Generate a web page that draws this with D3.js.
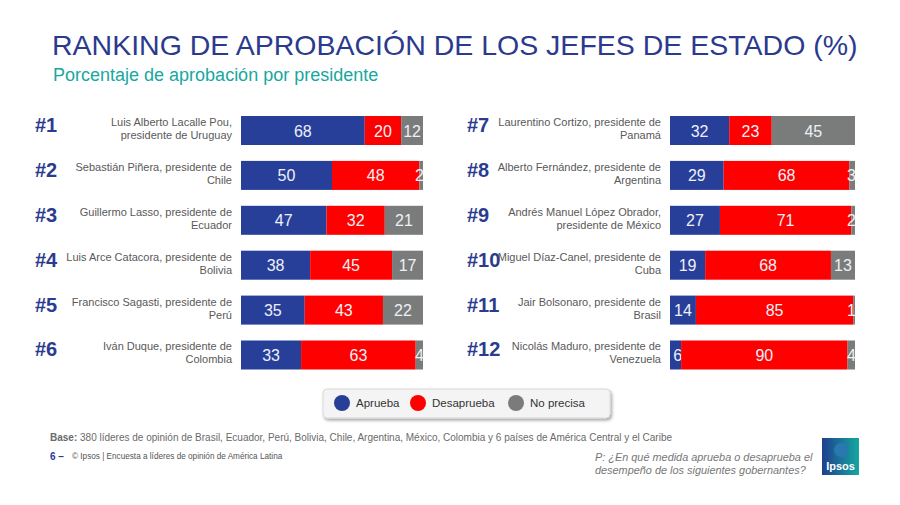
<!DOCTYPE html>
<html><head><meta charset="utf-8">
<script src="https://cdn.jsdelivr.net/npm/d3@7"></script>
<style>body{margin:0;background:#fff;}svg{display:block;font-family:Arial,"Liberation Sans",sans-serif;}</style>
</head><body><svg id="c" width="900" height="505"></svg>
<script>
const ranks = ["#1","#2","#3","#4","#5","#6","#7","#8","#9","#10","#11","#12"];
const names = [
 ["Luis Alberto Lacalle Pou,","presidente de Uruguay"],
 ["Sebastián Piñera, presidente de","Chile"],
 ["Guillermo Lasso, presidente de","Ecuador"],
 ["Luis Arce Catacora, presidente de","Bolivia"],
 ["Francisco Sagasti, presidente de","Perú"],
 ["Iván Duque, presidente de","Colombia"],
 ["Laurentino Cortizo, presidente de","Panamá"],
 ["Alberto Fernández, presidente de","Argentina"],
 ["Andrés Manuel López Obrador,","presidente de México"],
 ["Miguel Díaz-Canel, presidente de","Cuba"],
 ["Jair Bolsonaro, presidente de","Brasil"],
 ["Nicolás Maduro, presidente de","Venezuela"]
];
const aprueba    = [68,50,47,38,35,33,32,29,27,19,14,6];
const desaprueba = [20,48,32,45,43,63,23,68,71,68,85,90];
const noPrecisa  = [12,2,21,17,22,4,45,3,2,13,1,4];
const seriesNames = ["Aprueba","Desaprueba","No precisa"];
const colors = ["#273f98","#fe0000","#7a7c7b"];

const svg = d3.select("#c");
svg.append("text").attr("x",52).attr("y",55).attr("font-size",28.5).attr("fill","#2b3a8c")
  .text("RANKING DE APROBACIÓN DE LOS JEFES DE ESTADO (%)");
svg.append("text").attr("x",53).attr("y",81).attr("font-size",18).attr("fill","#19a79f")
  .text("Porcentaje de aprobación por presidente");

const cols = [
  {rankX:35, nameX:232, x0:241, x1:423, idx:[0,1,2,3,4,5]},
  {rankX:467, nameX:661, x0:670, x1:855, idx:[6,7,8,9,10,11]}
];
const y = d3.scaleBand().domain(d3.range(6)).range([116,369.5]).paddingInner(0.354).paddingOuter(0);
const stackData = aprueba.map((a,i)=>({a:a,d:desaprueba[i],n:noPrecisa[i]}));
const stack = d3.stack().keys(["a","d","n"])(stackData);

cols.forEach(col=>{
  const x = d3.scaleLinear().domain([0,100]).range([col.x0,col.x1]);
  col.idx.forEach((i,r)=>{
    const g = svg.append("g");
    const yt = y(r), h = y.bandwidth();
    g.append("text").attr("x",col.rankX).attr("y",yt+16).attr("font-size",20).attr("font-weight","bold")
      .attr("fill","#2b3c8f").text(ranks[i]);
    names[i].forEach((ln,k)=>{
      g.append("text").attr("x",col.nameX).attr("y",yt+10+k*13).attr("text-anchor","end")
        .attr("font-size",11).attr("fill","#595959").text(ln);
    });
    stack.forEach((s,si)=>{
      const v0=s[i][0], v1=s[i][1];
      g.append("rect").attr("x",x(v0)).attr("y",yt).attr("width",x(v1)-x(v0)).attr("height",h)
        .attr("fill",colors[si]);
      const val=v1-v0;
      const wpx=x(v1)-x(v0);
      let cx=(x(v0)+x(v1))/2, anchor="middle";
      if(wpx<14){cx=x(v1)+1; anchor="end";}
      g.append("text").attr("x",cx).attr("y",yt+h/2+6).attr("text-anchor",anchor)
        .attr("font-size",16).attr("fill","#eef0f8").text(val);
    });
  });
});

// legend
const lg = svg.append("g");
const defs = svg.append("defs");
const f = defs.append("filter").attr("id","sh").attr("x","-10%").attr("y","-30%").attr("width","120%").attr("height","170%");
f.append("feDropShadow").attr("dx",1.5).attr("dy",2).attr("stdDeviation",1.5).attr("flood-color","#000").attr("flood-opacity",0.35);
lg.append("rect").attr("x",323).attr("y",389).attr("width",287).attr("height",29).attr("rx",4)
  .attr("fill","#f4f4f4").attr("stroke","#d8d8d8").attr("filter","url(#sh)");
const lx=[342,418,516];
seriesNames.forEach((s,i)=>{
  lg.append("circle").attr("cx",lx[i]).attr("cy",403).attr("r",8).attr("fill",colors[i]);
  lg.append("text").attr("x",lx[i]+14).attr("y",407).attr("font-size",11.5).attr("fill","#333").text(s);
});

// footer
const ft = svg.append("text").attr("x",50).attr("y",441).attr("font-size",10).attr("fill","#6a6a6a");
ft.append("tspan").attr("font-weight","bold").text("Base:");
ft.append("tspan").text(" 380 líderes de opinión de Brasil, Ecuador, Perú, Bolivia, Chile, Argentina, México, Colombia y 6 países de América Central y el Caribe");
svg.append("text").attr("x",50).attr("y",460).attr("font-size",10).attr("font-weight","bold").attr("fill","#2b3c8f").text("6 –");
svg.append("text").attr("x",72).attr("y",459).attr("font-size",8.2).attr("fill","#555")
  .text("© Ipsos | Encuesta a líderes de opinión de América Latina");
svg.append("text").attr("x",595).attr("y",461).attr("font-size",10.9).attr("font-style","italic").attr("fill","#777")
  .text("P: ¿En qué medida aprueba o desaprueba el");
svg.append("text").attr("x",595).attr("y",474).attr("font-size",10.9).attr("font-style","italic").attr("fill","#777")
  .text("desempeño de los siguientes gobernantes?");
// logo
const lgr = defs.append("linearGradient").attr("id","lgg").attr("x1","0").attr("x2","1").attr("y1","0").attr("y2","0");
lgr.append("stop").attr("offset","0%").attr("stop-color","#1f3f8f");
lgr.append("stop").attr("offset","100%").attr("stop-color","#16a7a0");
svg.append("rect").attr("x",822).attr("y",438).attr("width",37).attr("height",37).attr("fill","url(#lgg)");
svg.append("circle").attr("cx",841).attr("cy",450).attr("r",7).attr("fill","#2a78b0");
svg.append("text").attr("x",840.5).attr("y",470).attr("text-anchor","middle").attr("font-size",11).attr("font-weight","bold").attr("fill","#fff").text("Ipsos");
</script></body></html>
